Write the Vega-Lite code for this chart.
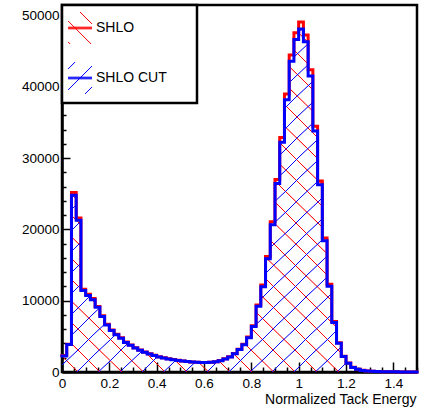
{
  "$schema": "https://vega.github.io/schema/vega-lite/v6.json",
  "width": 355,
  "height": 367,
  "autosize": {"type": "none"},
  "padding": {"left": 62, "top": 5, "right": 9, "bottom": 36},
  "background": "white",
  "config": {
    "view": {"stroke": "black", "strokeWidth": 2.5},
    "font": "Liberation Sans",
    "legend": {
      "padding": 6,
      "strokeColor": "black",
      "strokeWidth": 2.5,
      "fillColor": "white"
    },
    "axis": {
      "grid": false,
      "domainColor": "black",
      "domainWidth": 2.5,
      "tickColor": "black",
      "tickWidth": 1.5,
      "labelColor": "black",
      "labelFont": "Liberation Sans",
      "labelFontSize": 13.5,
      "labelOverlap": false,
      "labelFlush": false,
      "titleColor": "black",
      "titleFont": "Liberation Sans",
      "titleFontWeight": "normal"
    }
  },
  "data": {
    "values": [
      {"lo": 0.00, "hi": 0.02, "SHLO": 2300, "SHLO CUT": 2250},
      {"lo": 0.02, "hi": 0.04, "SHLO": 3900, "SHLO CUT": 3850},
      {"lo": 0.04, "hi": 0.06, "SHLO": 25200, "SHLO CUT": 24800},
      {"lo": 0.06, "hi": 0.08, "SHLO": 21600, "SHLO CUT": 21300},
      {"lo": 0.08, "hi": 0.10, "SHLO": 11600, "SHLO CUT": 11450},
      {"lo": 0.10, "hi": 0.12, "SHLO": 10900, "SHLO CUT": 10750},
      {"lo": 0.12, "hi": 0.14, "SHLO": 10300, "SHLO CUT": 10150},
      {"lo": 0.14, "hi": 0.16, "SHLO": 9200, "SHLO CUT": 9070},
      {"lo": 0.16, "hi": 0.18, "SHLO": 7900, "SHLO CUT": 7790},
      {"lo": 0.18, "hi": 0.20, "SHLO": 6700, "SHLO CUT": 6610},
      {"lo": 0.20, "hi": 0.22, "SHLO": 5900, "SHLO CUT": 5820},
      {"lo": 0.22, "hi": 0.24, "SHLO": 5300, "SHLO CUT": 5230},
      {"lo": 0.24, "hi": 0.26, "SHLO": 4800, "SHLO CUT": 4740},
      {"lo": 0.26, "hi": 0.28, "SHLO": 4200, "SHLO CUT": 4150},
      {"lo": 0.28, "hi": 0.30, "SHLO": 3800, "SHLO CUT": 3750},
      {"lo": 0.30, "hi": 0.32, "SHLO": 3400, "SHLO CUT": 3360},
      {"lo": 0.32, "hi": 0.34, "SHLO": 3100, "SHLO CUT": 3060},
      {"lo": 0.34, "hi": 0.36, "SHLO": 2800, "SHLO CUT": 2770},
      {"lo": 0.36, "hi": 0.38, "SHLO": 2550, "SHLO CUT": 2520},
      {"lo": 0.38, "hi": 0.40, "SHLO": 2350, "SHLO CUT": 2320},
      {"lo": 0.40, "hi": 0.42, "SHLO": 2150, "SHLO CUT": 2120},
      {"lo": 0.42, "hi": 0.44, "SHLO": 2000, "SHLO CUT": 1975},
      {"lo": 0.44, "hi": 0.46, "SHLO": 1850, "SHLO CUT": 1830},
      {"lo": 0.46, "hi": 0.48, "SHLO": 1750, "SHLO CUT": 1730},
      {"lo": 0.48, "hi": 0.50, "SHLO": 1650, "SHLO CUT": 1630},
      {"lo": 0.50, "hi": 0.52, "SHLO": 1550, "SHLO CUT": 1530},
      {"lo": 0.52, "hi": 0.54, "SHLO": 1480, "SHLO CUT": 1460},
      {"lo": 0.54, "hi": 0.56, "SHLO": 1420, "SHLO CUT": 1400},
      {"lo": 0.56, "hi": 0.58, "SHLO": 1380, "SHLO CUT": 1360},
      {"lo": 0.58, "hi": 0.60, "SHLO": 1350, "SHLO CUT": 1330},
      {"lo": 0.60, "hi": 0.62, "SHLO": 1340, "SHLO CUT": 1320},
      {"lo": 0.62, "hi": 0.64, "SHLO": 1380, "SHLO CUT": 1360},
      {"lo": 0.64, "hi": 0.66, "SHLO": 1450, "SHLO CUT": 1430},
      {"lo": 0.66, "hi": 0.68, "SHLO": 1600, "SHLO CUT": 1580},
      {"lo": 0.68, "hi": 0.70, "SHLO": 1850, "SHLO CUT": 1820},
      {"lo": 0.70, "hi": 0.72, "SHLO": 2150, "SHLO CUT": 2110},
      {"lo": 0.72, "hi": 0.74, "SHLO": 2600, "SHLO CUT": 2550},
      {"lo": 0.74, "hi": 0.76, "SHLO": 3200, "SHLO CUT": 3140},
      {"lo": 0.76, "hi": 0.78, "SHLO": 3900, "SHLO CUT": 3820},
      {"lo": 0.78, "hi": 0.80, "SHLO": 4900, "SHLO CUT": 4800},
      {"lo": 0.80, "hi": 0.82, "SHLO": 6500, "SHLO CUT": 6370},
      {"lo": 0.82, "hi": 0.84, "SHLO": 9400, "SHLO CUT": 9210},
      {"lo": 0.84, "hi": 0.86, "SHLO": 12200, "SHLO CUT": 11960},
      {"lo": 0.86, "hi": 0.88, "SHLO": 16200, "SHLO CUT": 15880},
      {"lo": 0.88, "hi": 0.90, "SHLO": 21100, "SHLO CUT": 20680},
      {"lo": 0.90, "hi": 0.92, "SHLO": 27000, "SHLO CUT": 26460},
      {"lo": 0.92, "hi": 0.94, "SHLO": 32900, "SHLO CUT": 32240},
      {"lo": 0.94, "hi": 0.96, "SHLO": 39000, "SHLO CUT": 38220},
      {"lo": 0.96, "hi": 0.98, "SHLO": 44500, "SHLO CUT": 43610},
      {"lo": 0.98, "hi": 1.00, "SHLO": 47600, "SHLO CUT": 46650},
      {"lo": 1.00, "hi": 1.02, "SHLO": 49100, "SHLO CUT": 48120},
      {"lo": 1.02, "hi": 1.04, "SHLO": 47300, "SHLO CUT": 46350},
      {"lo": 1.04, "hi": 1.06, "SHLO": 42400, "SHLO CUT": 41550},
      {"lo": 1.06, "hi": 1.08, "SHLO": 34500, "SHLO CUT": 33810},
      {"lo": 1.08, "hi": 1.10, "SHLO": 26800, "SHLO CUT": 26260},
      {"lo": 1.10, "hi": 1.12, "SHLO": 18800, "SHLO CUT": 18420},
      {"lo": 1.12, "hi": 1.14, "SHLO": 12300, "SHLO CUT": 12050},
      {"lo": 1.14, "hi": 1.16, "SHLO": 7100, "SHLO CUT": 6960},
      {"lo": 1.16, "hi": 1.18, "SHLO": 4100, "SHLO CUT": 4020},
      {"lo": 1.18, "hi": 1.20, "SHLO": 2200, "SHLO CUT": 2160},
      {"lo": 1.20, "hi": 1.22, "SHLO": 1250, "SHLO CUT": 1225},
      {"lo": 1.22, "hi": 1.24, "SHLO": 650, "SHLO CUT": 640},
      {"lo": 1.24, "hi": 1.26, "SHLO": 380, "SHLO CUT": 372},
      {"lo": 1.26, "hi": 1.28, "SHLO": 230, "SHLO CUT": 225},
      {"lo": 1.28, "hi": 1.30, "SHLO": 150, "SHLO CUT": 147},
      {"lo": 1.30, "hi": 1.32, "SHLO": 100, "SHLO CUT": 98},
      {"lo": 1.32, "hi": 1.34, "SHLO": 70, "SHLO CUT": 69},
      {"lo": 1.34, "hi": 1.36, "SHLO": 50, "SHLO CUT": 49},
      {"lo": 1.36, "hi": 1.38, "SHLO": 35, "SHLO CUT": 34},
      {"lo": 1.38, "hi": 1.40, "SHLO": 25, "SHLO CUT": 24},
      {"lo": 1.40, "hi": 1.42, "SHLO": 20, "SHLO CUT": 20},
      {"lo": 1.42, "hi": 1.44, "SHLO": 15, "SHLO CUT": 15},
      {"lo": 1.44, "hi": 1.46, "SHLO": 10, "SHLO CUT": 10},
      {"lo": 1.46, "hi": 1.48, "SHLO": 8, "SHLO CUT": 8},
      {"lo": 1.48, "hi": 1.50, "SHLO": 6, "SHLO CUT": 6}
    ]
  },
  "transform": [
    {"fold": ["SHLO", "SHLO CUT"], "as": ["series", "count"]},
    {"fold": ["lo", "hi"], "as": ["side", "edge"]}
  ],
  "encoding": {
    "x": {
      "field": "edge",
      "type": "quantitative",
      "scale": {"domain": [0, 1.5], "nice": false, "zero": false},
      "axis": {
        "values": [0, 0.05, 0.1, 0.15, 0.2, 0.25, 0.3, 0.35, 0.4, 0.45, 0.5, 0.55, 0.6, 0.65, 0.7, 0.75, 0.8, 0.85, 0.9, 0.95, 1, 1.05, 1.1, 1.15, 1.2, 1.25, 1.3, 1.35, 1.4, 1.45, 1.5],
        "format": "~g",
        "labelExpr": "abs(datum.value * 5 - round(datum.value * 5)) < 1e-6 ? datum.label : ''",
        "tickSize": {"condition": {"test": "abs(datum.value * 5 - round(datum.value * 5)) < 1e-6", "value": -10}, "value": -5},
        "labelPadding": 14,
        "title": "Normalized Tack Energy",
        "titleFontSize": 14,
        "titleAlign": "right",
        "titleBaseline": "alphabetic",
        "titleX": 354,
        "titleY": 31
      }
    },
    "y": {
      "field": "count",
      "type": "quantitative",
      "stack": null,
      "scale": {"domain": [0, 51500], "nice": false},
      "axis": {
        "values": [0, 2000, 4000, 6000, 8000, 10000, 12000, 14000, 16000, 18000, 20000, 22000, 24000, 26000, 28000, 30000, 32000, 34000, 36000, 38000, 40000, 42000, 44000, 46000, 48000, 50000],
        "format": "d",
        "labelExpr": "datum.value % 10000 === 0 ? datum.label : ''",
        "tickSize": {"condition": {"test": "datum.value % 10000 === 0", "value": -8}, "value": -4},
        "labelPadding": 11,
        "title": null
      }
    }
  },
  "layer": [
    {
      "transform": [{"filter": "datum.series === 'SHLO'"}],
      "mark": {
        "type": "area",
        "fill": {
          "gradient": "linear", "x1": 0, "y1": 1, "x2": 1, "y2": 0,
          "stops": [
            {"offset": 0.0219, "color": "rgba(255,0,0,0)"}, {"offset": 0.0226, "color": "#ff0000"}, {"offset": 0.0234, "color": "#ff0000"}, {"offset": 0.0241, "color": "rgba(255,0,0,0)"},
            {"offset": 0.0525, "color": "rgba(255,0,0,0)"}, {"offset": 0.0532, "color": "#ff0000"}, {"offset": 0.0540, "color": "#ff0000"}, {"offset": 0.0547, "color": "rgba(255,0,0,0)"},
            {"offset": 0.0830, "color": "rgba(255,0,0,0)"}, {"offset": 0.0837, "color": "#ff0000"}, {"offset": 0.0845, "color": "#ff0000"}, {"offset": 0.0852, "color": "rgba(255,0,0,0)"},
            {"offset": 0.1136, "color": "rgba(255,0,0,0)"}, {"offset": 0.1143, "color": "#ff0000"}, {"offset": 0.1151, "color": "#ff0000"}, {"offset": 0.1158, "color": "rgba(255,0,0,0)"},
            {"offset": 0.1441, "color": "rgba(255,0,0,0)"}, {"offset": 0.1448, "color": "#ff0000"}, {"offset": 0.1456, "color": "#ff0000"}, {"offset": 0.1463, "color": "rgba(255,0,0,0)"},
            {"offset": 0.1747, "color": "rgba(255,0,0,0)"}, {"offset": 0.1754, "color": "#ff0000"}, {"offset": 0.1762, "color": "#ff0000"}, {"offset": 0.1769, "color": "rgba(255,0,0,0)"},
            {"offset": 0.2053, "color": "rgba(255,0,0,0)"}, {"offset": 0.2060, "color": "#ff0000"}, {"offset": 0.2068, "color": "#ff0000"}, {"offset": 0.2075, "color": "rgba(255,0,0,0)"},
            {"offset": 0.2358, "color": "rgba(255,0,0,0)"}, {"offset": 0.2365, "color": "#ff0000"}, {"offset": 0.2373, "color": "#ff0000"}, {"offset": 0.2380, "color": "rgba(255,0,0,0)"},
            {"offset": 0.2664, "color": "rgba(255,0,0,0)"}, {"offset": 0.2671, "color": "#ff0000"}, {"offset": 0.2679, "color": "#ff0000"}, {"offset": 0.2686, "color": "rgba(255,0,0,0)"},
            {"offset": 0.2969, "color": "rgba(255,0,0,0)"}, {"offset": 0.2976, "color": "#ff0000"}, {"offset": 0.2984, "color": "#ff0000"}, {"offset": 0.2991, "color": "rgba(255,0,0,0)"},
            {"offset": 0.3275, "color": "rgba(255,0,0,0)"}, {"offset": 0.3282, "color": "#ff0000"}, {"offset": 0.3290, "color": "#ff0000"}, {"offset": 0.3297, "color": "rgba(255,0,0,0)"},
            {"offset": 0.3581, "color": "rgba(255,0,0,0)"}, {"offset": 0.3588, "color": "#ff0000"}, {"offset": 0.3596, "color": "#ff0000"}, {"offset": 0.3603, "color": "rgba(255,0,0,0)"},
            {"offset": 0.3886, "color": "rgba(255,0,0,0)"}, {"offset": 0.3893, "color": "#ff0000"}, {"offset": 0.3901, "color": "#ff0000"}, {"offset": 0.3908, "color": "rgba(255,0,0,0)"},
            {"offset": 0.4192, "color": "rgba(255,0,0,0)"}, {"offset": 0.4199, "color": "#ff0000"}, {"offset": 0.4207, "color": "#ff0000"}, {"offset": 0.4214, "color": "rgba(255,0,0,0)"},
            {"offset": 0.4497, "color": "rgba(255,0,0,0)"}, {"offset": 0.4504, "color": "#ff0000"}, {"offset": 0.4512, "color": "#ff0000"}, {"offset": 0.4519, "color": "rgba(255,0,0,0)"},
            {"offset": 0.4803, "color": "rgba(255,0,0,0)"}, {"offset": 0.4810, "color": "#ff0000"}, {"offset": 0.4818, "color": "#ff0000"}, {"offset": 0.4825, "color": "rgba(255,0,0,0)"},
            {"offset": 0.5109, "color": "rgba(255,0,0,0)"}, {"offset": 0.5116, "color": "#ff0000"}, {"offset": 0.5124, "color": "#ff0000"}, {"offset": 0.5131, "color": "rgba(255,0,0,0)"},
            {"offset": 0.5414, "color": "rgba(255,0,0,0)"}, {"offset": 0.5421, "color": "#ff0000"}, {"offset": 0.5429, "color": "#ff0000"}, {"offset": 0.5436, "color": "rgba(255,0,0,0)"},
            {"offset": 0.5720, "color": "rgba(255,0,0,0)"}, {"offset": 0.5727, "color": "#ff0000"}, {"offset": 0.5735, "color": "#ff0000"}, {"offset": 0.5742, "color": "rgba(255,0,0,0)"},
            {"offset": 0.6025, "color": "rgba(255,0,0,0)"}, {"offset": 0.6032, "color": "#ff0000"}, {"offset": 0.6040, "color": "#ff0000"}, {"offset": 0.6047, "color": "rgba(255,0,0,0)"},
            {"offset": 0.6331, "color": "rgba(255,0,0,0)"}, {"offset": 0.6338, "color": "#ff0000"}, {"offset": 0.6346, "color": "#ff0000"}, {"offset": 0.6353, "color": "rgba(255,0,0,0)"},
            {"offset": 0.6637, "color": "rgba(255,0,0,0)"}, {"offset": 0.6644, "color": "#ff0000"}, {"offset": 0.6652, "color": "#ff0000"}, {"offset": 0.6659, "color": "rgba(255,0,0,0)"},
            {"offset": 0.6942, "color": "rgba(255,0,0,0)"}, {"offset": 0.6949, "color": "#ff0000"}, {"offset": 0.6957, "color": "#ff0000"}, {"offset": 0.6964, "color": "rgba(255,0,0,0)"},
            {"offset": 0.7248, "color": "rgba(255,0,0,0)"}, {"offset": 0.7255, "color": "#ff0000"}, {"offset": 0.7263, "color": "#ff0000"}, {"offset": 0.7270, "color": "rgba(255,0,0,0)"},
            {"offset": 0.7553, "color": "rgba(255,0,0,0)"}, {"offset": 0.7560, "color": "#ff0000"}, {"offset": 0.7568, "color": "#ff0000"}, {"offset": 0.7575, "color": "rgba(255,0,0,0)"},
            {"offset": 0.7859, "color": "rgba(255,0,0,0)"}, {"offset": 0.7866, "color": "#ff0000"}, {"offset": 0.7874, "color": "#ff0000"}, {"offset": 0.7881, "color": "rgba(255,0,0,0)"},
            {"offset": 0.8165, "color": "rgba(255,0,0,0)"}, {"offset": 0.8172, "color": "#ff0000"}, {"offset": 0.8180, "color": "#ff0000"}, {"offset": 0.8187, "color": "rgba(255,0,0,0)"},
            {"offset": 0.8470, "color": "rgba(255,0,0,0)"}, {"offset": 0.8477, "color": "#ff0000"}, {"offset": 0.8485, "color": "#ff0000"}, {"offset": 0.8492, "color": "rgba(255,0,0,0)"},
            {"offset": 0.8776, "color": "rgba(255,0,0,0)"}, {"offset": 0.8783, "color": "#ff0000"}, {"offset": 0.8791, "color": "#ff0000"}, {"offset": 0.8798, "color": "rgba(255,0,0,0)"},
            {"offset": 0.9081, "color": "rgba(255,0,0,0)"}, {"offset": 0.9088, "color": "#ff0000"}, {"offset": 0.9096, "color": "#ff0000"}, {"offset": 0.9103, "color": "rgba(255,0,0,0)"},
            {"offset": 0.9387, "color": "rgba(255,0,0,0)"}, {"offset": 0.9394, "color": "#ff0000"}, {"offset": 0.9402, "color": "#ff0000"}, {"offset": 0.9409, "color": "rgba(255,0,0,0)"},
            {"offset": 0.9693, "color": "rgba(255,0,0,0)"}, {"offset": 0.9700, "color": "#ff0000"}, {"offset": 0.9708, "color": "#ff0000"}, {"offset": 0.9715, "color": "rgba(255,0,0,0)"}
          ]
        }
      },
      "encoding": {}
    },
    {
      "transform": [{"filter": "datum.series === 'SHLO CUT'"}],
      "mark": {
        "type": "area",
        "fill": {
          "gradient": "linear", "x1": 0, "y1": 0, "x2": 1, "y2": 1,
          "stops": [
            {"offset": 0.0306, "color": "rgba(0,0,255,0)"}, {"offset": 0.0313, "color": "#0000ff"}, {"offset": 0.0321, "color": "#0000ff"}, {"offset": 0.0328, "color": "rgba(0,0,255,0)"},
            {"offset": 0.0611, "color": "rgba(0,0,255,0)"}, {"offset": 0.0618, "color": "#0000ff"}, {"offset": 0.0626, "color": "#0000ff"}, {"offset": 0.0633, "color": "rgba(0,0,255,0)"},
            {"offset": 0.0917, "color": "rgba(0,0,255,0)"}, {"offset": 0.0924, "color": "#0000ff"}, {"offset": 0.0932, "color": "#0000ff"}, {"offset": 0.0939, "color": "rgba(0,0,255,0)"},
            {"offset": 0.1223, "color": "rgba(0,0,255,0)"}, {"offset": 0.1230, "color": "#0000ff"}, {"offset": 0.1238, "color": "#0000ff"}, {"offset": 0.1245, "color": "rgba(0,0,255,0)"},
            {"offset": 0.1528, "color": "rgba(0,0,255,0)"}, {"offset": 0.1535, "color": "#0000ff"}, {"offset": 0.1543, "color": "#0000ff"}, {"offset": 0.1550, "color": "rgba(0,0,255,0)"},
            {"offset": 0.1834, "color": "rgba(0,0,255,0)"}, {"offset": 0.1841, "color": "#0000ff"}, {"offset": 0.1849, "color": "#0000ff"}, {"offset": 0.1856, "color": "rgba(0,0,255,0)"},
            {"offset": 0.2139, "color": "rgba(0,0,255,0)"}, {"offset": 0.2146, "color": "#0000ff"}, {"offset": 0.2154, "color": "#0000ff"}, {"offset": 0.2161, "color": "rgba(0,0,255,0)"},
            {"offset": 0.2445, "color": "rgba(0,0,255,0)"}, {"offset": 0.2452, "color": "#0000ff"}, {"offset": 0.2460, "color": "#0000ff"}, {"offset": 0.2467, "color": "rgba(0,0,255,0)"},
            {"offset": 0.2751, "color": "rgba(0,0,255,0)"}, {"offset": 0.2758, "color": "#0000ff"}, {"offset": 0.2766, "color": "#0000ff"}, {"offset": 0.2773, "color": "rgba(0,0,255,0)"},
            {"offset": 0.3056, "color": "rgba(0,0,255,0)"}, {"offset": 0.3063, "color": "#0000ff"}, {"offset": 0.3071, "color": "#0000ff"}, {"offset": 0.3078, "color": "rgba(0,0,255,0)"},
            {"offset": 0.3362, "color": "rgba(0,0,255,0)"}, {"offset": 0.3369, "color": "#0000ff"}, {"offset": 0.3377, "color": "#0000ff"}, {"offset": 0.3384, "color": "rgba(0,0,255,0)"},
            {"offset": 0.3667, "color": "rgba(0,0,255,0)"}, {"offset": 0.3674, "color": "#0000ff"}, {"offset": 0.3682, "color": "#0000ff"}, {"offset": 0.3689, "color": "rgba(0,0,255,0)"},
            {"offset": 0.3973, "color": "rgba(0,0,255,0)"}, {"offset": 0.3980, "color": "#0000ff"}, {"offset": 0.3988, "color": "#0000ff"}, {"offset": 0.3995, "color": "rgba(0,0,255,0)"},
            {"offset": 0.4279, "color": "rgba(0,0,255,0)"}, {"offset": 0.4286, "color": "#0000ff"}, {"offset": 0.4294, "color": "#0000ff"}, {"offset": 0.4301, "color": "rgba(0,0,255,0)"},
            {"offset": 0.4584, "color": "rgba(0,0,255,0)"}, {"offset": 0.4591, "color": "#0000ff"}, {"offset": 0.4599, "color": "#0000ff"}, {"offset": 0.4606, "color": "rgba(0,0,255,0)"},
            {"offset": 0.4890, "color": "rgba(0,0,255,0)"}, {"offset": 0.4897, "color": "#0000ff"}, {"offset": 0.4905, "color": "#0000ff"}, {"offset": 0.4912, "color": "rgba(0,0,255,0)"},
            {"offset": 0.5195, "color": "rgba(0,0,255,0)"}, {"offset": 0.5202, "color": "#0000ff"}, {"offset": 0.5210, "color": "#0000ff"}, {"offset": 0.5217, "color": "rgba(0,0,255,0)"},
            {"offset": 0.5501, "color": "rgba(0,0,255,0)"}, {"offset": 0.5508, "color": "#0000ff"}, {"offset": 0.5516, "color": "#0000ff"}, {"offset": 0.5523, "color": "rgba(0,0,255,0)"},
            {"offset": 0.5807, "color": "rgba(0,0,255,0)"}, {"offset": 0.5814, "color": "#0000ff"}, {"offset": 0.5822, "color": "#0000ff"}, {"offset": 0.5829, "color": "rgba(0,0,255,0)"},
            {"offset": 0.6112, "color": "rgba(0,0,255,0)"}, {"offset": 0.6119, "color": "#0000ff"}, {"offset": 0.6127, "color": "#0000ff"}, {"offset": 0.6134, "color": "rgba(0,0,255,0)"},
            {"offset": 0.6418, "color": "rgba(0,0,255,0)"}, {"offset": 0.6425, "color": "#0000ff"}, {"offset": 0.6433, "color": "#0000ff"}, {"offset": 0.6440, "color": "rgba(0,0,255,0)"},
            {"offset": 0.6723, "color": "rgba(0,0,255,0)"}, {"offset": 0.6730, "color": "#0000ff"}, {"offset": 0.6738, "color": "#0000ff"}, {"offset": 0.6745, "color": "rgba(0,0,255,0)"},
            {"offset": 0.7029, "color": "rgba(0,0,255,0)"}, {"offset": 0.7036, "color": "#0000ff"}, {"offset": 0.7044, "color": "#0000ff"}, {"offset": 0.7051, "color": "rgba(0,0,255,0)"},
            {"offset": 0.7335, "color": "rgba(0,0,255,0)"}, {"offset": 0.7342, "color": "#0000ff"}, {"offset": 0.7350, "color": "#0000ff"}, {"offset": 0.7357, "color": "rgba(0,0,255,0)"},
            {"offset": 0.7640, "color": "rgba(0,0,255,0)"}, {"offset": 0.7647, "color": "#0000ff"}, {"offset": 0.7655, "color": "#0000ff"}, {"offset": 0.7662, "color": "rgba(0,0,255,0)"},
            {"offset": 0.7946, "color": "rgba(0,0,255,0)"}, {"offset": 0.7953, "color": "#0000ff"}, {"offset": 0.7961, "color": "#0000ff"}, {"offset": 0.7968, "color": "rgba(0,0,255,0)"},
            {"offset": 0.8251, "color": "rgba(0,0,255,0)"}, {"offset": 0.8258, "color": "#0000ff"}, {"offset": 0.8266, "color": "#0000ff"}, {"offset": 0.8273, "color": "rgba(0,0,255,0)"},
            {"offset": 0.8557, "color": "rgba(0,0,255,0)"}, {"offset": 0.8564, "color": "#0000ff"}, {"offset": 0.8572, "color": "#0000ff"}, {"offset": 0.8579, "color": "rgba(0,0,255,0)"},
            {"offset": 0.8863, "color": "rgba(0,0,255,0)"}, {"offset": 0.8870, "color": "#0000ff"}, {"offset": 0.8878, "color": "#0000ff"}, {"offset": 0.8885, "color": "rgba(0,0,255,0)"},
            {"offset": 0.9168, "color": "rgba(0,0,255,0)"}, {"offset": 0.9175, "color": "#0000ff"}, {"offset": 0.9183, "color": "#0000ff"}, {"offset": 0.9190, "color": "rgba(0,0,255,0)"},
            {"offset": 0.9474, "color": "rgba(0,0,255,0)"}, {"offset": 0.9481, "color": "#0000ff"}, {"offset": 0.9489, "color": "#0000ff"}, {"offset": 0.9496, "color": "rgba(0,0,255,0)"},
            {"offset": 0.9779, "color": "rgba(0,0,255,0)"}, {"offset": 0.9786, "color": "#0000ff"}, {"offset": 0.9794, "color": "#0000ff"}, {"offset": 0.9801, "color": "rgba(0,0,255,0)"}
          ]
        }
      },
      "encoding": {}
    },
    {
      "mark": {"type": "line", "strokeWidth": 3, "strokeJoin": "miter", "strokeCap": "square"},
      "encoding": {
        "color": {
          "field": "series",
          "type": "nominal",
          "scale": {"domain": ["SHLO", "SHLO CUT"], "range": ["#ff0000", "#0000ff"]},
          "legend": {
            "title": null,
            "orient": "none",
            "legendX": 0,
            "legendY": 0,
            "direction": "vertical",
            "symbolSize": 1089,
            "symbolStrokeWidth": 1,
            "symbolFillColor": "transparent",
            "rowPadding": 12,
            "labelFont": "Liberation Sans",
            "labelFontSize": 14,
            "labelColor": "black",
            "labelOffset": -6,
            "encode": {
              "symbols": {
                "update": {
                  "shape": {"signal": "datum.value === 'SHLO' ? 'M-1.027,-0.05H0.427M-1.027,0H0.427M-1.027,0.05H0.427M-0.3,-0.97L0.427,-0.243M-1.027,-0.427L0.37,0.97M-1.027,0.843L-0.9,0.97M6.27,0L6.27,0' : 'M-1.027,-0.05H0.427M-1.027,0H0.427M-1.027,0.05H0.427M-1.027,-0.543L-0.6,-0.97M-1.027,0.727L0.427,-0.727M0,0.97L0.427,0.543M6.27,0L6.27,0'"},
                  "strokeWidth": {"value": 1},
                  "strokeCap": {"value": "butt"},
                  "fill": {"value": "transparent"}
                }
              }
            }
          }
        },
        "order": [{"field": "edge", "type": "quantitative"}, {"field": "side", "type": "nominal"}]
      }
    }
  ]
}
